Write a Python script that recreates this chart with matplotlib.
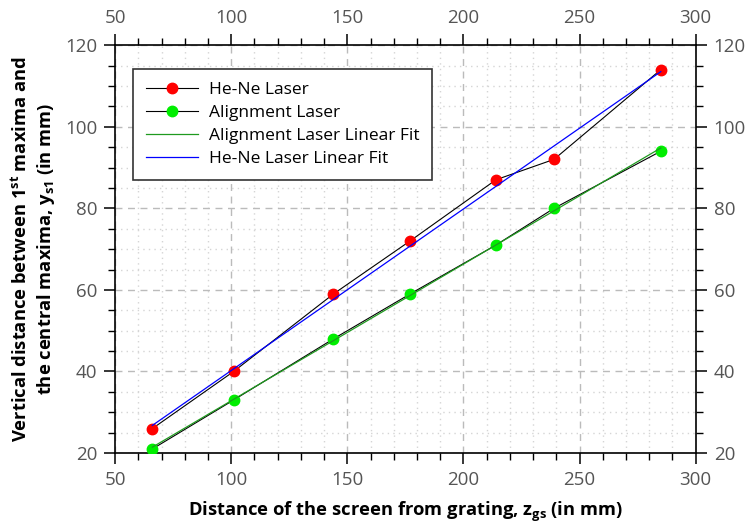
import numpy as np
import matplotlib.pyplot as plt
from matplotlib.ticker import MultipleLocator

plt.rcParams['font.family'] = ['Open Sans', 'DejaVu Sans']
plt.rcParams['mathtext.fontset'] = 'custom'
plt.rcParams['mathtext.rm'] = 'Open Sans'
plt.rcParams['mathtext.bf'] = 'Open Sans:bold'

# distance of screen from grating (mm)
z_gs = [66, 101, 144, 177, 214, 239, 285]
# vertical distance between 1st maxima and central maxima (mm)
y_hene = [26, 40, 59, 72, 87, 92, 114]
y_align = [21, 33, 48, 59, 71, 80, 94]

# linear fits
p_hene = np.polyfit(z_gs, y_hene, 1)
p_align = np.polyfit(z_gs, y_align, 1)
zz = np.array([z_gs[0], z_gs[-1]])

fig = plt.figure(figsize=(7.48, 5.25), dpi=100)
ax = fig.add_axes([0.154, 0.137, 0.776, 0.777])

ax.plot(z_gs, y_hene, color='black', lw=0.8, marker='o', ms=7.5,
        mfc='red', mec='red', label='He-Ne Laser', zorder=3)
ax.plot(z_gs, y_align, color='black', lw=0.8, marker='o', ms=7.5,
        mfc='#00ee00', mec='#00ee00', label='Alignment Laser', zorder=3)
ax.plot(zz, np.polyval(p_align, zz), color='#1f9a1f', lw=0.9,
        label='Alignment Laser Linear Fit', zorder=4)
ax.plot(zz, np.polyval(p_hene, zz), color='blue', lw=0.9,
        label='He-Ne Laser Linear Fit', zorder=4)

ax.set_xlim(50, 300)
ax.set_ylim(20, 120)
ax.xaxis.set_major_locator(MultipleLocator(50))
ax.xaxis.set_minor_locator(MultipleLocator(10))
ax.yaxis.set_major_locator(MultipleLocator(20))
ax.yaxis.set_minor_locator(MultipleLocator(5))

ax.grid(which='major', ls=(0, (5, 4)), color='#bbbbbb', lw=1)
ax.grid(which='minor', ls=(0, (1, 3)), color='#d5d5d5', lw=1)

ax.tick_params(which='both', top=True, right=True, labeltop=True, labelright=True,
               direction='out', colors='black', labelcolor='#555555', labelsize=13.5)
ax.tick_params(which='major', length=8, width=1.1, pad=5)
ax.tick_params(which='minor', length=5, width=1.0)
for s in ax.spines.values():
    s.set_linewidth(1.2)

ax.set_xlabel(r'Distance of the screen from grating, $\mathbf{z_{gs}}$ (in mm)',
              fontsize=13.2, fontweight='bold', labelpad=8)
ax.set_ylabel('Vertical distance between 1$\\mathbf{^{st}}$ maxima and\n'
              'the central maxima, $\\mathbf{y_{s1}}$ (in mm)',
              fontsize=13.2, fontweight='bold', labelpad=6)

leg = ax.legend(loc='upper left', bbox_to_anchor=(0.031, 0.941), borderaxespad=0,
                fontsize=12.5, handlelength=3.0, handletextpad=0.6, fancybox=False,
                framealpha=1, edgecolor='#333333', labelspacing=0.38, borderpad=0.75)
leg.get_frame().set_linewidth(1.2)

fig.savefig('out.png', dpi=100)
